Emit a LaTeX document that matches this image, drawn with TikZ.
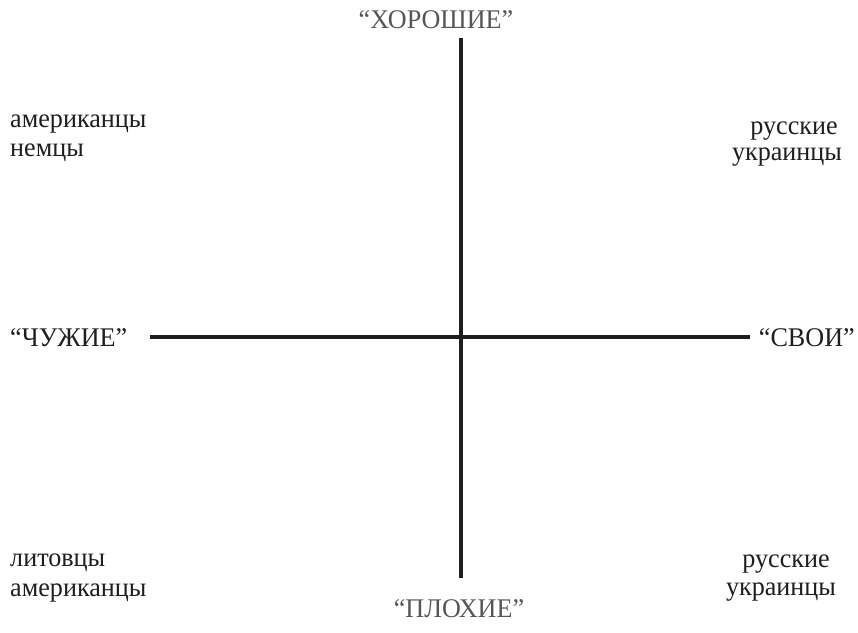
\documentclass[tikz,border=0pt]{standalone}
\usepackage{fontspec}
\setmainfont{Liberation Serif}[FakeStretch=0.97]
\usetikzlibrary{positioning}
\definecolor{ink}{RGB}{30,30,30}
\begin{document}
\begin{tikzpicture}[x=0.3mm,y=-0.3mm,
  word/.style={font=\fontsize{23}{28}\selectfont,inner sep=0pt,text=ink},
  pole/.style={word,text=ink!75},
  axis/.style={line width=3pt,ink}]
  \useasboundingbox (0,0) rectangle (858,632);
  % poles of the two axes
  \node[pole,anchor=base] (good) at (436,28) {“ХОРОШИЕ”};
  \node[pole,anchor=base] (bad) at (459,617) {“ПЛОХИЕ”};
  \node[word,anchor=base west] (alien) at (10,346) {“ЧУЖИЕ”};
  \node[word,anchor=base east] (own) at (855,346) {“СВОИ”};
  % corner groups
  \node[word,anchor=base west] (amTop) at (10,127) {американцы};
  \node[word,anchor=base west] (ger) at (10,156) {немцы};
  \node[word,anchor=base] (ruTop) at (794,134) {русские};
  \node[word,anchor=base] (ukTop) at (787,160) {украинцы};
  \node[word,anchor=base west] (lit) at (10,566) {литовцы};
  \node[word,anchor=base west] (amBot) at (10,596) {американцы};
  \node[word,anchor=base] (ruBot) at (786,567) {русские};
  \node[word,anchor=base] (ukBot) at (781,595) {украинцы};
  % axes
  \coordinate (up) at (461,38);
  \coordinate (down) at (461,578);
  \coordinate (left) at (150,337);
  \coordinate (right) at (750,337);
  \draw[axis] (up) -- (down);
  \draw[axis] (left) -- (right);
\end{tikzpicture}
\end{document}
